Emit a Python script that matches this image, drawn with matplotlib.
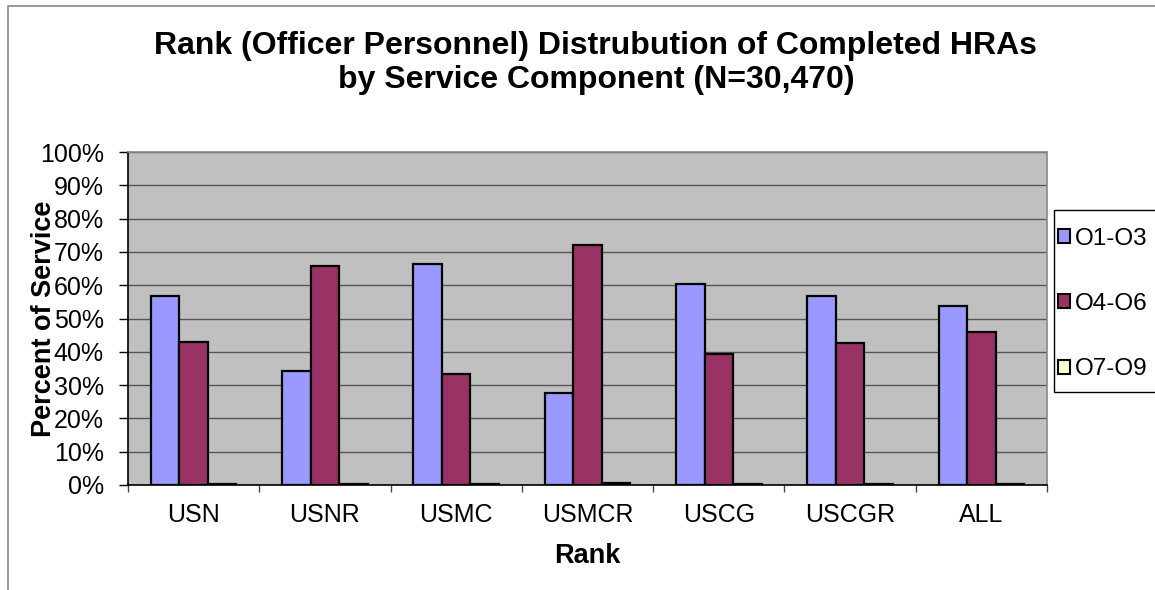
import numpy as np
import matplotlib.pyplot as plt
from matplotlib.patches import Rectangle
from matplotlib.ticker import PercentFormatter

plt.rcParams['font.family'] = ['Liberation Sans', 'DejaVu Sans']

categories = ['USN', 'USNR', 'USMC', 'USMCR', 'USCG', 'USCGR', 'ALL']
series_names = ['O1-O3', 'O4-O6', 'O7-O9']
o1_o3 = [56.8, 34.2, 66.4, 27.6, 60.4, 56.8, 53.8]
o4_o6 = [42.9, 65.7, 33.3, 72.0, 39.3, 42.7, 46.0]
o7_o9 = [0.3, 0.2, 0.3, 0.5, 0.4, 0.3, 0.3]
colors = ['#9999FF', '#993366', '#FFFFCC']

W, H = 1155, 590
fig = plt.figure(figsize=(W / 100, H / 100), dpi=100)
ax = fig.add_axes([128 / W, 1 - 485 / H, 919 / W, 333 / H])
ax.set_facecolor('#C0C0C0')

x = np.arange(len(categories))
width = 0.217
for i, (vals, name) in enumerate(zip([o1_o3, o4_o6, o7_o9], series_names)):
    ax.bar(x + (i - 1) * width, vals, width, color=colors[i], edgecolor='black',
           linewidth=1.6, label=name, zorder=3)

ax.set_xlim(-0.5, len(categories) - 0.5)
ax.set_ylim(0, 100)
ax.set_yticks(np.arange(0, 101, 10))
ax.yaxis.set_major_formatter(PercentFormatter(decimals=0))
ax.set_xticks(x)
ax.set_xticklabels(categories)
ax.set_xticks(np.arange(-0.5, len(categories)), minor=True)
ax.tick_params(axis='x', which='major', length=0, labelsize=18, pad=13)
ax.tick_params(axis='x', which='minor', length=5, width=1, color='#444444')
ax.tick_params(axis='y', length=6.5, width=1, labelsize=18, pad=11)
ax.yaxis.grid(True, color='#555555', linewidth=1, zorder=0)
ax.set_axisbelow(True)

ax.spines['left'].set_color('black')
ax.spines['bottom'].set_color('black')
ax.spines['top'].set_color('#888888')
ax.spines['right'].set_color('#888888')
for s in ax.spines.values():
    s.set_linewidth(1.2)

ax.set_xlabel('Rank', fontsize=19.5, fontweight='bold')
ax.xaxis.set_label_coords(0.5, -0.175)
ax.set_ylabel('Percent of Service', fontsize=19.5, fontweight='bold', va='center')
ax.yaxis.set_label_coords(-0.091, 0.5)

fig.text(596 / W, 1 - 63 / H, 'Rank (Officer Personnel) Distrubution of Completed HRAs\nby Service Component (N=30,470)',
         ha='center', va='center', fontsize=23, fontweight='bold', linespacing=1.2)

leg = ax.legend(loc='center left', bbox_to_anchor=(1058 / W, 1 - 304 / H),
                bbox_transform=fig.transFigure, fontsize=17.5, frameon=False,
                handlelength=0.5, handleheight=0.5, handletextpad=0.2,
                labelspacing=1.78, borderpad=0, borderaxespad=0)
for h in leg.legend_handles:
    h.set_linewidth(1.5)

# legend box and outer chart border (cut off at the right/bottom in the original)
fig.patches.append(Rectangle((1054 / W, 1 - 392 / H), 0.2, 182 / H, transform=fig.transFigure,
                             fill=False, edgecolor='black', linewidth=1))
fig.patches.append(Rectangle((8 / W, -0.1), 1.2, 1 - 6 / H + 0.1, transform=fig.transFigure,
                             fill=False, edgecolor='#888888', linewidth=1.2))

fig.savefig('out.png', dpi=100)
